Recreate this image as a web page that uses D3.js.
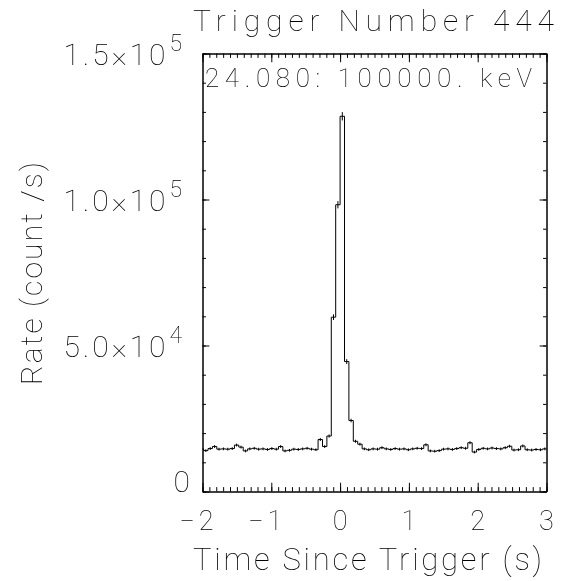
<!DOCTYPE html>
<html>
<head>
<meta charset="utf-8">
<script src="https://cdn.jsdelivr.net/npm/d3@7"></script>
<style>
  html, body { margin: 0; padding: 0; background: #fff; }
  svg { will-change: transform; }
  svg text { font-family: Roboto, "DejaVu Sans", sans-serif; font-weight: 100; fill: #000; opacity: 0.999; }
</style>
</head>
<body>
<svg id="chart" width="570" height="581"></svg>
<script>
// Light curve for trigger 444, 24.080–100000 keV, 64 ms bins
const binStart = -2.048;   // left edge of first bin (s)
const binWidth = 0.064;    // bin width (s)

// Count rate per bin (count/s)
const rates = [
  14600, 14000, 14700, 15400, 14500, 14600, 14500, 14700, 15900, 15200,
  13900, 14600, 14800, 14500, 14600, 14400, 14700, 14500, 15400, 13900,
  14100, 14500, 14400, 14600, 14800, 14500, 14300, 17800, 15400, 19000,
  59700, 98200, 128500, 44500, 24300, 17200, 16200, 14600, 14300, 14600,
  14500, 15000, 14600, 14400, 14700, 14500, 14600, 14300, 14600, 14800,
  14700, 16000, 13900, 13800, 14000, 14500, 14600, 14400, 14700, 15000,
  14800, 16700, 13500, 14400, 14800, 14600, 14900, 14700, 14600, 15000,
  15500, 14200, 14300, 15600, 14300, 14200, 14400, 14300, 14600
];

const xDomain = [-2, 3];
const yDomain = [0, 150000];
const xTickValues = [-2, -1, 0, 1, 2, 3];
const yTickValues = [0, 50000, 100000, 150000];
const yTickMantissa = ["0", "5.0", "1.0", "1.5"];
const yTickExponent = ["", "4", "5", "5"];

const titleText = "Trigger Number 444";
const energyText = "24.080: 100000. keV";
const xLabel = "Time Since Trigger (s)";
const yLabel = "Rate (count /s)";

const svg = d3.select("#chart");
const plot = { left: 202.5, right: 546.5, top: 53.5, bottom: 491.5 };
const pw = plot.right - plot.left, ph = plot.bottom - plot.top;

const x = d3.scaleLinear().domain(xDomain).range([plot.left, plot.right]);
const y = d3.scaleLinear().domain(yDomain).range([plot.bottom, plot.top]);

// Axes: ticks pointing inward on all four sides
const xMajorLen = 0.02 * ph, yMajorLen = 0.02 * pw;
const xMinor = d3.range(-20, 31).map(d => d / 10);
const yMinor = d3.range(0, 16).map(d => d * 10000);

function axisGroup(axis, tx, ty) {
  const g = svg.append("g").attr("transform", `translate(${tx},${ty})`).call(axis);
  g.selectAll("text").remove();
  g.select(".domain").attr("stroke", "#000").attr("stroke-width", 1);
  g.selectAll(".tick line").attr("stroke", "#000").attr("stroke-width", 1);
  return g;
}
// bottom
axisGroup(d3.axisBottom(x).tickValues(xMinor).tickSize(-xMajorLen / 2).tickSizeOuter(0), 0, plot.bottom);
axisGroup(d3.axisBottom(x).tickValues(xTickValues).tickSize(-xMajorLen).tickSizeOuter(0), 0, plot.bottom);
// top
axisGroup(d3.axisTop(x).tickValues(xMinor).tickSize(-xMajorLen / 2).tickSizeOuter(0), 0, plot.top);
axisGroup(d3.axisTop(x).tickValues(xTickValues).tickSize(-xMajorLen).tickSizeOuter(0), 0, plot.top);
// left
axisGroup(d3.axisLeft(y).tickValues(yMinor).tickSize(-yMajorLen / 2).tickSizeOuter(0), plot.left, 0);
axisGroup(d3.axisLeft(y).tickValues(yTickValues).tickSize(-yMajorLen).tickSizeOuter(0), plot.left, 0);
// right
axisGroup(d3.axisRight(y).tickValues(yMinor).tickSize(-yMajorLen / 2).tickSizeOuter(0), plot.right, 0);
axisGroup(d3.axisRight(y).tickValues(yTickValues).tickSize(-yMajorLen).tickSizeOuter(0), plot.right, 0);

// Histogram (stepped) clipped to the plot window
svg.append("clipPath").attr("id", "plotClip")
  .append("rect").attr("x", plot.left).attr("y", plot.top).attr("width", pw).attr("height", ph);

const bins = rates.map((r, i) => ({ t0: binStart + i * binWidth, rate: r }));
const stepPts = bins.map(b => [b.t0, b.rate]);
stepPts.push([bins[bins.length - 1].t0 + binWidth, bins[bins.length - 1].rate]);

const line = d3.line().x(d => x(d[0])).y(d => y(d[1])).curve(d3.curveStepAfter);
const body = svg.append("g").attr("clip-path", "url(#plotClip)");
body.append("path").datum(stepPts)
  .attr("d", line).attr("fill", "none").attr("stroke", "#000").attr("stroke-width", 1);

// Poisson error bars at bin centres
body.selectAll("line.err").data(bins).join("line").attr("class", "err")
  .attr("x1", d => x(d.t0 + binWidth / 2)).attr("x2", d => x(d.t0 + binWidth / 2))
  .attr("y1", d => y(d.rate + Math.sqrt(d.rate * binWidth) / binWidth))
  .attr("y2", d => y(d.rate - Math.sqrt(d.rate * binWidth) / binWidth))
  .attr("stroke", "#000").attr("stroke-width", 1);

// Y tick labels in mantissa×10^exp form
yTickValues.forEach((v, i) => {
  const t = svg.append("text").attr("text-anchor", "end").style("font-size", "30px");
  if (yTickExponent[i]) {
    t.attr("x", 182).attr("y", y(v) + 11);
    t.append("tspan").attr("textLength", 102).attr("lengthAdjust", "spacing")
      .text(yTickMantissa[i] + "×10");
    t.append("tspan").attr("dy", -14).attr("dx", 1).style("font-size", "23px").text(yTickExponent[i]);
  } else {
    t.attr("x", 190).attr("y", y(v) + 0.5).text(yTickMantissa[i]);
  }
});

// X tick labels
svg.selectAll("text.xt").data(xTickValues).join("text").attr("class", "xt")
  .attr("x", d => x(d) + (d < 0 ? -4 : 0)).attr("y", 530)
  .attr("text-anchor", "middle").style("font-size", "27px")
  .attr("letter-spacing", d => d < 0 ? "4px" : null)
  .text(d => d < 0 ? "\u2212" + Math.abs(d) : String(d));

// Titles
svg.append("text").attr("x", 554).attr("y", 31).attr("text-anchor", "end")
  .style("font-size", "30px").attr("textLength", 361).attr("lengthAdjust", "spacing")
  .text(titleText);
svg.append("text").attr("x", 205).attr("y", 87)
  .style("font-size", "26px").attr("textLength", 327).attr("lengthAdjust", "spacing")
  .text(energyText);
svg.append("text").attr("x", 193).attr("y", 570)
  .style("font-size", "31px").attr("textLength", 349).attr("lengthAdjust", "spacing")
  .text(xLabel);
svg.append("text").attr("transform", "translate(42,385) rotate(-90)")
  .style("font-size", "30px").attr("textLength", 223).attr("lengthAdjust", "spacing")
  .text(yLabel);
</script>
</body>
</html>
